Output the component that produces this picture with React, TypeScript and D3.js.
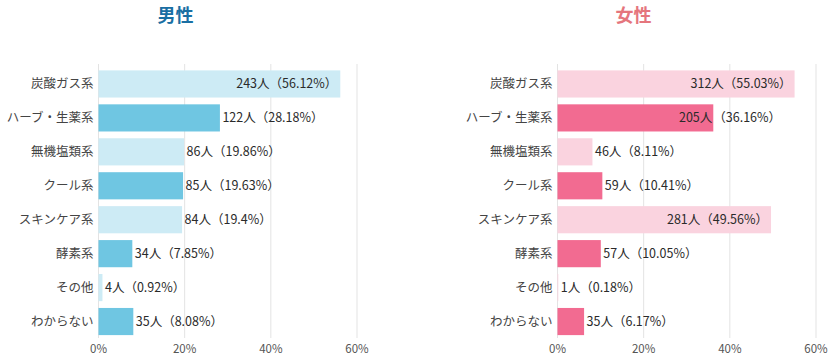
import React from "react";
import * as d3 from "d3";

const categories = ["炭酸ガス系", "ハーブ・生薬系", "無機塩類系", "クール系", "スキンケア系", "酵素系", "その他", "わからない"];
const maleCounts = [243, 122, 86, 85, 84, 34, 4, 35];
const malePcts = [56.12, 28.18, 19.86, 19.63, 19.4, 7.85, 0.92, 8.08];
const femaleCounts = [312, 205, 46, 59, 281, 57, 1, 35];
const femalePcts = [55.03, 36.16, 8.11, 10.41, 49.56, 10.05, 0.18, 6.17];
const ticks = [0, 20, 40, 60];
const titles = ["男性", "女性"];

const W = 839;
const H = 359;
const FONT = "'Noto Sans CJK JP', 'Noto Sans', sans-serif";

type PanelProps = {
  x0: number;
  title: string;
  titleX: number;
  titleColor: string;
  counts: number[];
  pcts: number[];
  light: string;
  dark: string;
};

function Panel({ x0, title, titleX, titleColor, counts, pcts, light, dark }: PanelProps) {
  const x = d3.scaleLinear().domain([0, 60]).range([x0, x0 + 258.5]);
  const y = d3.scaleBand<string>().domain(categories).range([67, 338.5]).paddingInner(0.2).paddingOuter(0.1);
  const bw = y.bandwidth();
  const fs = 12.5;
  return (
    <g>
      <text x={titleX} y={22} textAnchor="middle" fontSize={18} fontWeight="bold" fill={titleColor} fontFamily={FONT}>
        {title}
      </text>
      {ticks.map((t) => (
        <line key={t} x1={x(t)} x2={x(t)} y1={64} y2={338} stroke="#e3e3e3" strokeWidth={1} />
      ))}
      {ticks.map((t) => (
        <text key={"t" + t} x={x(t)} y={353} textAnchor="middle" fontSize={11.5} fill="#555" fontFamily={FONT}>
          {t + "%"}
        </text>
      ))}
      {categories.map((c, i) => {
        const yy = y(c)!;
        const xe = x(pcts[i]);
        const p = pcts[i];
        const countStr = counts[i] + "人";
        const pctStr = "（" + p + "%）";
        let label;
        if (p >= 45) {
          label = (
            <text x={xe - 3} y={yy + bw / 2} dy="0.35em" textAnchor="end" fontSize={fs} fill="#2a2a2a" fontFamily={FONT}>
              {countStr + pctStr}
            </text>
          );
        } else if (p >= 30) {
          label = (
            <g>
              <text x={xe - 1} y={yy + bw / 2} dy="0.35em" textAnchor="end" fontSize={fs} fill="#2a2a2a" fontFamily={FONT}>
                {countStr}
              </text>
              <text x={xe} y={yy + bw / 2} dy="0.35em" textAnchor="start" fontSize={fs} fill="#2a2a2a" fontFamily={FONT}>
                {pctStr}
              </text>
            </g>
          );
        } else {
          label = (
            <text x={xe + 2.5} y={yy + bw / 2} dy="0.35em" textAnchor="start" fontSize={fs} fill="#2a2a2a" fontFamily={FONT}>
              {countStr + pctStr}
            </text>
          );
        }
        return (
          <g key={c}>
            <text x={x0 - 5} y={yy + bw / 2} dy="0.35em" textAnchor="end" fontSize={fs} fill="#444" fontFamily={FONT}>
              {c}
            </text>
            <rect x={x0} y={yy} width={Math.max(0.5, xe - x0)} height={bw} fill={i % 2 === 0 ? light : dark} />
            {label}
          </g>
        );
      })}
    </g>
  );
}

export default function App() {
  return (
    <svg width={W} height={H} style={{ position: "absolute", left: 0, top: 0, background: "#fff" }}>
      <Panel x0={98.5} title={titles[0]} titleX={175.5} titleColor="#1a6fa3" counts={maleCounts} pcts={malePcts} light="#cdebf5" dark="#6fc6e2" />
      <Panel x0={557.5} title={titles[1]} titleX={633.5} titleColor="#e5757d" counts={femaleCounts} pcts={femalePcts} light="#fad3df" dark="#f26b91" />
    </svg>
  );
}
